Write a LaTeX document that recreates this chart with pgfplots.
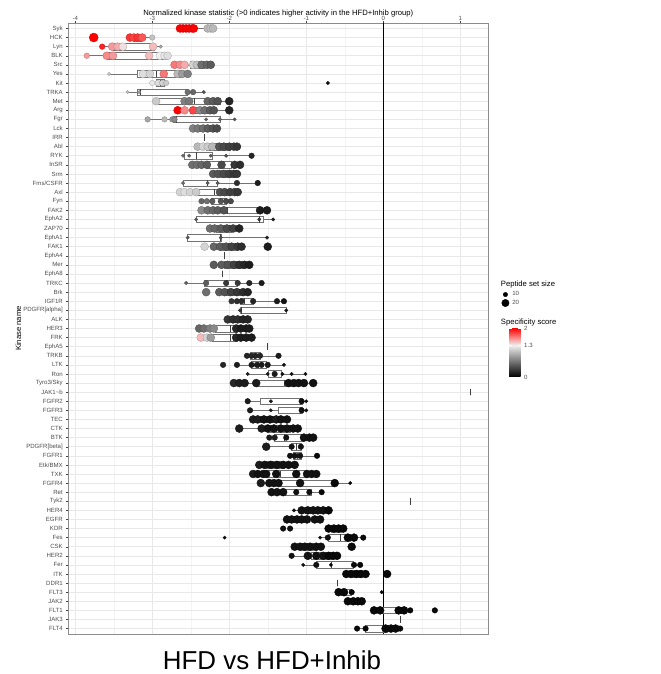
\documentclass[border=0pt]{standalone}
\usepackage{fontspec}
\setmainfont{Liberation Sans}
\usepackage{pgfplots}
\usepackage{pgfplotstable}
\pgfplotsset{compat=1.18}
\usepgfplotslibrary{statistics}
\definecolor{axtext}{RGB}{77,77,77}
\definecolor{gridmaj}{RGB}{232,232,232}
\definecolor{gridmin}{RGB}{243,243,243}

\pgfplotstableread{
x y c s
-2.64 1 2.0 4
-2.60 1 2.0 4
-2.56 1 2.0 4
-2.52 1 2.0 4
-2.48 1 1.95 4
-2.46 1 2.0 4
-2.28 1 1.0 4
-2.24 1 1.05 4
-2.21 1 1.0 4
-3.76 2 2.0 4.5
-3.29 2 1.85 4
-3.24 2 1.8 4
-3.19 2 1.85 4
-3.13 2 1.75 4
-3.00 2 1.05 2.8
-3.65 3 1.9 2.8
-3.52 3 1.55 4
-3.45 3 1.5 4
-3.38 3 1.35 4
-2.99 3 1.45 4
-2.89 3 0.9 1.7
-3.85 4 1.55 2.8
-3.59 4 1.6 4
-3.51 4 1.55 4
-3.04 4 1.45 4
-2.90 4 1.3 4
-2.84 4 1.25 4
-2.80 4 1.2 4
-2.71 5 1.65 4
-2.64 5 1.6 4
-2.58 5 1.5 4
-2.47 5 1.15 4
-2.42 5 1.05 4
-2.36 5 0.6 4
-2.29 5 0.55 4
-2.24 5 0.5 4
-3.56 6 1.1 1.7
-3.12 6 1.2 4
-3.03 6 1.15 4
-2.85 6 1.65 4
-2.67 6 1.0 4
-2.61 6 0.85 4
-2.54 6 0.7 4
-3.00 7 1.25 2.8
-2.93 7 1.2 2.8
-2.87 7 1.15 2.8
-2.82 7 1.1 2.8
-0.72 7 0.1 1.7
-3.32 8 1.05 1.7
-3.17 8 0.85 1.7
-2.54 8 0.6 2.8
-2.47 8 0.55 2.8
-2.33 8 0.45 1.7
-2.95 9 1.1 4
-2.58 9 0.7 4
-2.52 9 0.65 4
-2.28 9 0.55 4
-2.21 9 0.5 4
-2.15 9 0.45 4
-2.00 9 0.2 4
-2.67 10 2.0 4
-2.58 10 1.6 4
-2.47 10 1.8 4
-2.38 10 0.75 4
-2.32 10 0.6 4
-2.25 10 0.5 4
-2.20 10 0.45 4
-2.00 10 0.2 4
-3.06 11 0.9 2.8
-2.84 11 1.0 2.8
-2.74 11 0.8 2.8
-2.71 11 0.75 2.8
-2.30 11 0.55 1.7
-2.12 11 0.55 1.7
-1.93 11 0.5 1.7
-2.47 12 0.7 4
-2.41 12 0.65 4
-2.34 12 0.6 4
-2.28 12 0.5 4
-2.21 12 0.45 4
-2.16 12 0.4 4
-2.41 14 1.0 4
-2.34 14 1.15 4
-2.28 14 1.1 4
-2.22 14 1.0 4
-2.13 14 0.45 4
-2.07 14 0.4 4
-2.00 14 0.35 4
-1.94 14 0.35 4
-1.90 14 0.3 4
-2.60 15 0.6 1.7
-2.52 15 0.55 1.7
-2.24 15 0.5 1.7
-2.04 15 0.45 1.7
-1.71 15 0.2 2.8
-2.48 16 0.6 4
-2.42 16 0.6 4
-2.36 16 0.55 4
-2.29 16 0.5 4
-2.10 16 0.4 4
-1.93 16 0.3 4
-1.86 16 0.25 4
-2.21 17 0.5 4
-2.15 17 0.45 4
-2.07 17 0.4 4
-2.00 17 0.35 4
-1.94 17 0.3 4
-1.90 17 0.3 4
-2.60 18 0.6 1.7
-2.28 18 0.5 1.7
-2.15 18 0.5 1.7
-1.90 18 0.25 2.8
-1.63 18 0.15 2.8
-2.64 19 1.15 4
-2.58 19 1.2 4
-2.51 19 1.15 4
-2.43 19 1.1 4
-2.12 19 0.45 4
-2.06 19 0.4 4
-1.99 19 0.35 4
-1.93 19 0.35 4
-1.89 19 0.3 4
-2.36 20 0.55 2.8
-2.29 20 0.6 2.8
-2.22 20 0.5 2.8
-2.11 20 0.45 2.8
-2.04 20 0.4 2.8
-1.98 20 0.4 2.8
-2.36 21 0.75 4
-2.28 21 0.6 4
-2.21 21 0.55 4
-2.15 21 0.5 4
-2.07 21 0.45 4
-1.60 21 0.15 4
-1.51 21 0.15 4
-2.43 22 0.5 1.7
-1.61 22 0.3 1.7
-1.43 22 0.15 1.7
-2.25 23 0.6 4
-2.19 23 0.55 4
-2.11 23 0.5 4
-2.03 23 0.4 4
-1.95 23 0.35 4
-1.87 23 0.2 4
-2.54 24 0.5 1.7
-2.11 24 0.45 1.7
-1.51 24 0.2 1.7
-2.32 25 1.15 4
-2.20 25 0.55 4
-2.12 25 0.5 4
-2.04 25 0.45 4
-1.97 25 0.35 4
-1.89 25 0.3 4
-1.84 25 0.25 4
-1.50 25 0.15 4
-2.20 27 0.5 4
-2.10 27 0.5 4
-2.02 27 0.45 4
-1.94 27 0.35 4
-1.87 27 0.25 4
-1.80 27 0.2 4
-1.74 27 0.15 4
-2.56 29 0.55 1.7
-2.30 29 0.5 2.8
-2.04 29 0.3 2.8
-1.89 29 0.3 2.8
-1.74 29 0.2 2.8
-1.58 29 0.15 2.8
-2.30 30 0.6 4
-2.13 30 0.5 4
-2.06 30 0.45 4
-1.98 30 0.35 4
-1.90 30 0.3 4
-1.82 30 0.25 4
-1.76 30 0.2 4
-1.97 31 0.3 2.8
-1.90 31 0.25 2.8
-1.84 31 0.25 2.8
-1.69 31 0.2 2.8
-1.38 31 0.15 2.8
-1.29 31 0.1 2.8
-1.86 32 0.3 1.7
-1.26 32 0.15 1.7
-2.02 33 0.3 4
-1.95 33 0.25 4
-1.89 33 0.25 4
-1.82 33 0.2 4
-1.76 33 0.2 4
-2.39 34 0.55 4
-2.33 34 0.6 4
-2.25 34 0.7 4
-2.20 34 0.75 4
-1.91 34 0.2 4
-1.85 34 0.15 4
-1.78 34 0.15 4
-1.74 34 0.15 4
-2.37 35 1.45 4
-2.29 35 1.15 4
-2.24 35 0.85 4
-1.91 35 0.2 4
-1.85 35 0.15 4
-1.78 35 0.15 4
-1.71 35 0.15 4
-1.77 37 0.2 2.8
-1.71 37 0.2 2.8
-1.66 37 0.2 2.8
-1.60 37 0.2 2.8
-1.36 37 0.15 2.8
-2.08 38 0.2 2.8
-1.90 38 0.15 2.8
-1.71 38 0.15 2.8
-1.64 38 0.15 2.8
-1.58 38 0.15 2.8
-1.50 38 0.15 2.8
-1.29 38 0.1 1.7
-1.76 39 0.15 1.7
-1.50 39 0.15 1.7
-1.41 39 0.15 2.8
-1.31 39 0.1 1.7
-1.19 39 0.1 1.7
-1.01 39 0.1 1.7
-1.94 40 0.2 4
-1.87 40 0.15 4
-1.80 40 0.15 4
-1.65 40 0.15 4
-1.23 40 0.1 4
-1.16 40 0.1 4
-1.10 40 0.1 4
-1.03 40 0.1 4
-0.91 40 0.1 4
-1.76 42 0.15 2.8
-1.46 42 0.15 1.7
-1.06 42 0.1 2.8
-1.00 42 0.1 1.7
-1.73 43 0.15 2.8
-1.46 43 0.15 1.7
-1.06 43 0.1 2.8
-1.00 43 0.1 1.7
-1.69 44 0.15 4
-1.63 44 0.15 4
-1.55 44 0.1 4
-1.47 44 0.1 4
-1.39 44 0.15 4
-1.33 44 0.1 4
-1.25 44 0.1 4
-1.87 45 0.15 4
-1.58 45 0.15 4
-1.50 45 0.1 4
-1.42 45 0.1 4
-1.33 45 0.1 4
-1.25 45 0.1 4
-1.17 45 0.1 4
-1.11 45 0.1 4
-1.48 46 0.15 2.8
-1.41 46 0.15 2.8
-1.26 46 0.1 2.8
-1.03 46 0.1 4
-0.96 46 0.1 4
-0.91 46 0.1 4
-1.52 47 0.15 4
-1.19 47 0.1 2.8
-1.07 47 0.1 2.8
-1.21 48 0.1 2.8
-1.15 48 0.1 2.8
-1.08 48 0.1 2.8
-0.86 48 0.05 2.8
-1.61 49 0.15 4
-1.54 49 0.1 4
-1.46 49 0.1 4
-1.38 49 0.1 4
-1.30 49 0.1 4
-1.23 49 0.1 4
-1.15 49 0.1 4
-1.69 50 0.15 4
-1.63 50 0.1 4
-1.56 50 0.1 4
-1.52 50 0.1 4
-1.39 50 0.1 4
-1.13 50 0.1 4
-0.99 50 0.1 4
-0.93 50 0.1 4
-0.87 50 0.1 4
-1.59 51 0.15 4
-1.48 51 0.1 4
-1.42 51 0.1 4
-1.36 51 0.1 4
-1.08 51 0.1 4
-0.63 51 0.05 4
-0.43 51 0.05 1.7
-1.45 52 0.1 4
-1.38 52 0.1 4
-1.30 52 0.1 4
-1.13 52 0.1 2.8
-0.96 52 0.1 2.8
-0.80 52 0.05 2.8
-1.16 54 0.1 1.7
-1.06 54 0.1 4
-0.98 54 0.1 4
-0.91 54 0.1 4
-0.85 54 0.1 4
-0.78 54 0.1 4
-0.71 54 0.05 4
-1.25 55 0.1 4
-1.19 55 0.1 4
-1.12 55 0.1 4
-1.06 55 0.1 4
-0.99 55 0.1 4
-0.89 55 0.1 4
-0.82 55 0.1 4
-1.30 56 0.1 2.8
-1.21 56 0.1 2.8
-0.71 56 0.05 4
-0.64 56 0.05 4
-0.58 56 0.05 4
-0.52 56 0.05 4
-2.06 57 0.1 1.7
-0.82 57 0.1 1.7
-0.72 57 0.1 2.8
-0.46 57 0.05 4
-0.38 57 0.05 4
-0.26 57 0.05 2.8
-1.15 58 0.1 4
-1.08 58 0.1 4
-1.02 58 0.1 4
-0.95 58 0.1 4
-0.87 58 0.1 4
-0.81 58 0.1 4
-0.41 58 0.05 4
-1.19 59 0.1 2.8
-0.98 59 0.1 4
-0.87 59 0.1 4
-0.78 59 0.1 4
-0.71 59 0.05 4
-0.65 59 0.05 4
-0.60 59 0.05 4
-1.04 60 0.1 1.7
-0.87 60 0.1 2.8
-0.68 60 0.05 1.7
-0.38 60 0.05 2.8
-0.30 60 0.05 2.8
-0.48 61 0.05 4
-0.42 61 0.05 4
-0.35 61 0.05 4
-0.29 61 0.05 4
-0.23 61 0.05 4
0.05 61 0.05 4
-0.58 63 0.05 4
-0.51 63 0.05 4
-0.41 63 0.05 2.8
-0.02 63 0.05 1.7
-0.46 64 0.05 4
-0.39 64 0.05 4
-0.33 64 0.05 4
-0.28 64 0.05 4
-0.12 65 0.05 4
-0.04 65 0.05 4
0.20 65 0.05 4
0.27 65 0.05 4
0.35 65 0.05 2.8
0.67 65 0.05 2.8
-0.34 67 0.05 2.8
-0.23 67 0.05 2.8
0.03 67 0.05 4
0.10 67 0.05 4
0.16 67 0.05 4
0.22 67 0.05 2.8
}\pts

\pgfplotsset{
  kbox/.style={draw=black!55, fill=white, line width=0.5pt, solid, forget plot,
    boxplot/draw direction=x, boxplot/box extend=0.72, boxplot/whisker extend=0,
    boxplot/every median/.style={draw=black!75, line width=0.6pt}},
}
\newcommand{\kbox}[6]{\addplot[kbox, boxplot prepared={draw position=#1,
  lower whisker=#2, lower quartile=#3, median=#4, upper quartile=#5, upper whisker=#6}] coordinates {};}

\begin{document}
\begin{tikzpicture}
\path[use as bounding box] (-68.3bp,-40bp) rectangle (592.7bp,634bp);
\begin{axis}[
  at={(0,0)}, anchor=south west,
  scale only axis, width=420bp, height=611bp,
  xmin=-4.09, xmax=1.364, ymin=0.4, ymax=67.6, y dir=reverse,
  clip=false,
  xtick={-4,-3,-2,-1,0,1}, xticklabels={-4,-3,-2,-1,0,1},
  minor xtick={-3.5,-2.5,-1.5,-0.5,0.5},
  xtick pos=right, xticklabel pos=right,
  ytick={1,...,67},
  yticklabels={Syk,HCK,Lyn,BLK,Src,Yes,Kit,TRKA,Met,Arg,Fgr,Lck,IRR,Abl,RYK,InSR,Srm,Fms/CSFR,Axl,Fyn,FAK2,EphA2,ZAP70,EphA1,FAK1,EphA4,Mer,EphA8,TRKC,Brk,IGF1R,{PDGFR[alpha]},ALK,HER3,FRK,EphA5,TRKB,LTK,Ron,Tyro3/Sky,{JAK1\textasciitilde b},FGFR2,FGFR3,TEC,CTK,BTK,{PDGFR[beta]},FGFR1,Etk/BMX,TXK,FGFR4,Ret,Tyk2,HER4,EGFR,KDR,Fes,CSK,HER2,Fer,ITK,DDR1,FLT3,JAK2,FLT1,JAK3,FLT4},
  ytick pos=left,
  tick align=outside, major tick length=2bp, minor tick length=0pt,
  tick style={draw=black!75, line width=0.4pt},
  xmajorgrids, ymajorgrids, xminorgrids,
  major grid style={draw=gridmaj, line width=0.5pt},
  minor grid style={draw=gridmin, line width=0.4pt},
  axis line style={draw=black!45, line width=0.5pt},
  ticklabel style={font=\fontsize{6.1}{7}\selectfont, text=axtext},
  xticklabel style={yshift=-3.5bp},
  title={Normalized kinase statistic (>0 indicates higher activity in the HFD+Inhib group)},
  title style={at={(axis description cs:0.5,1)}, anchor=center, yshift=4bp, font=\fontsize{7.7}{9}\selectfont},
  ylabel={Kinase name},
  ylabel style={at={(axis description cs:-0.119,0.5)}, anchor=center, font=\fontsize{7.7}{9}\selectfont},
  point meta min=0, point meta max=2,
  colormap={spec}{rgb255(0pt)=(0,0,0) rgb255(13pt)=(240,240,240) rgb255(20pt)=(255,0,0)},
  colorbar,
  colorbar/width=11.5bp,
  colorbar style={at={(parent axis.north east)}, anchor=north west,
    xshift=12.4bp, yshift=-305bp, scale only axis, width=11.5bp, height=49bp,
    ytick={0,1.3,2}, yticklabels={0,1.3,2},
    yticklabel style={font=\fontsize{6.1}{7}\selectfont, text=axtext},
    tick align=inside, major tick length=2.5bp,
    ytick style={draw=white, line width=0.5pt},
    axis line style={draw=none}},
  legend style={at={(axis description cs:1.031,0.5614)}, anchor=north west,
    draw=none, fill=none, inner sep=0pt, font=\fontsize{6.1}{7}\selectfont,
    row sep=1.2bp, nodes={inner xsep=3bp, inner ysep=0.5bp, text=axtext}},
  legend cell align=left,
]
\addlegendimage{legend image code/.code={\fill[black] (4bp,0bp) circle (2.2bp);}}
\addlegendentry{10}
\addlegendimage{legend image code/.code={\fill[black] (4bp,0bp) circle (3.7bp);}}
\addlegendentry{20}

\addplot[black, line width=0.6pt, forget plot] coordinates {(0,0.4) (0,67.6)};

\kbox{1}{-2.64}{-2.59}{-2.52}{-2.47}{-2.21}
\kbox{2}{-3.29}{-3.25}{-3.19}{-3.14}{-3.00}
\kbox{3}{-3.65}{-3.51}{-3.37}{-2.97}{-2.89}
\kbox{4}{-3.85}{-3.59}{-3.04}{-2.80}{-2.77}
\kbox{5}{-2.71}{-2.50}{-2.41}{-2.32}{-2.24}
\kbox{6}{-3.56}{-3.20}{-2.95}{-2.61}{-2.54}
\kbox{7}{-3.03}{-2.95}{-2.89}{-2.84}{-2.80}
\kbox{8}{-3.32}{-3.19}{-3.15}{-2.54}{-2.33}
\kbox{9}{-2.95}{-2.92}{-2.45}{-2.12}{-2.00}
\kbox{10}{-2.67}{-2.50}{-2.38}{-2.22}{-2.00}
\kbox{11}{-3.06}{-2.73}{-2.69}{-2.12}{-1.93}
\kbox{12}{-2.47}{-2.39}{-2.30}{-2.22}{-2.16}
\kbox{13}{-2.33}{-2.33}{-2.33}{-2.33}{-2.33}
\kbox{14}{-2.41}{-2.30}{-2.15}{-1.99}{-1.90}
\kbox{15}{-2.60}{-2.59}{-2.43}{-2.22}{-1.71}
\kbox{16}{-2.48}{-2.29}{-2.12}{-1.97}{-1.86}
\kbox{17}{-2.21}{-2.13}{-2.04}{-1.97}{-1.90}
\kbox{18}{-2.60}{-2.60}{-2.28}{-2.16}{-1.63}
\kbox{19}{-2.64}{-2.43}{-2.19}{-1.99}{-1.89}
\kbox{20}{-2.36}{-2.24}{-2.12}{-2.04}{-1.98}
\kbox{21}{-2.36}{-2.06}{-2.03}{-1.58}{-1.51}
\kbox{22}{-2.43}{-2.43}{-1.61}{-1.56}{-1.43}
\kbox{23}{-2.25}{-2.17}{-2.07}{-1.97}{-1.87}
\kbox{24}{-2.54}{-2.54}{-2.11}{-2.10}{-1.51}
\kbox{25}{-2.20}{-2.12}{-2.02}{-1.89}{-1.82}
\kbox{26}{-2.07}{-2.07}{-2.07}{-2.07}{-2.07}
\kbox{27}{-2.20}{-2.06}{-1.90}{-1.82}{-1.74}
\kbox{28}{-2.09}{-2.09}{-2.09}{-2.09}{-2.09}
\kbox{29}{-2.56}{-2.32}{-2.04}{-1.89}{-1.58}
\kbox{30}{-2.13}{-2.07}{-1.95}{-1.84}{-1.76}
\kbox{31}{-1.97}{-1.86}{-1.80}{-1.69}{-1.29}
\kbox{32}{-1.86}{-1.86}{-1.85}{-1.26}{-1.26}
\kbox{33}{-2.02}{-1.97}{-1.89}{-1.81}{-1.76}
\kbox{34}{-2.39}{-2.18}{-1.99}{-1.89}{-1.74}
\kbox{35}{-2.37}{-2.22}{-1.99}{-1.90}{-1.71}
\kbox{36}{-1.51}{-1.51}{-1.51}{-1.51}{-1.51}
\kbox{37}{-1.77}{-1.73}{-1.67}{-1.60}{-1.36}
\kbox{38}{-1.90}{-1.71}{-1.62}{-1.52}{-1.29}
\kbox{39}{-1.76}{-1.50}{-1.41}{-1.32}{-1.01}
\kbox{40}{-1.94}{-1.65}{-1.28}{-1.16}{-0.91}
\kbox{41}{1.13}{1.13}{1.13}{1.13}{1.13}
\kbox{42}{-1.76}{-1.60}{-1.08}{-1.05}{-0.99}
\kbox{43}{-1.73}{-1.36}{-1.08}{-1.05}{-0.99}
\kbox{44}{-1.69}{-1.60}{-1.47}{-1.34}{-1.25}
\kbox{45}{-1.87}{-1.50}{-1.34}{-1.21}{-1.11}
\kbox{46}{-1.48}{-1.41}{-1.28}{-1.04}{-0.91}
\kbox{47}{-1.52}{-1.19}{-1.13}{-1.07}{-1.07}
\kbox{48}{-1.21}{-1.17}{-1.12}{-1.07}{-0.86}
\kbox{49}{-1.61}{-1.52}{-1.39}{-1.28}{-1.15}
\kbox{50}{-1.69}{-1.51}{-1.34}{-0.99}{-0.87}
\kbox{51}{-1.59}{-1.36}{-1.08}{-0.65}{-0.43}
\kbox{52}{-1.45}{-1.33}{-1.13}{-0.93}{-0.80}
\kbox{53}{0.35}{0.35}{0.35}{0.35}{0.35}
\kbox{54}{-1.16}{-1.01}{-0.90}{-0.80}{-0.71}
\kbox{55}{-1.25}{-1.17}{-1.09}{-0.99}{-0.82}
\kbox{56}{-0.71}{-0.68}{-0.61}{-0.55}{-0.52}
\kbox{57}{-0.82}{-0.72}{-0.56}{-0.43}{-0.26}
\kbox{58}{-1.15}{-1.07}{-0.98}{-0.87}{-0.81}
\kbox{59}{-1.19}{-0.93}{-0.78}{-0.66}{-0.60}
\kbox{60}{-1.04}{-0.87}{-0.68}{-0.39}{-0.26}
\kbox{61}{-0.48}{-0.43}{-0.35}{-0.28}{-0.23}
\kbox{62}{-0.60}{-0.60}{-0.60}{-0.60}{-0.60}
\kbox{63}{-0.58}{-0.54}{-0.48}{-0.41}{-0.41}
\kbox{64}{-0.46}{-0.42}{-0.37}{-0.31}{-0.28}
\kbox{65}{-0.12}{-0.04}{0.20}{0.28}{0.35}
\kbox{66}{0.22}{0.22}{0.22}{0.22}{0.22}
\kbox{67}{-0.34}{-0.23}{0.01}{0.05}{0.22}

\addplot[scatter, only marks, mark=*, point meta=explicit, forget plot,
  visualization depends on={\thisrow{s}\as\msz},
  scatter/@pre marker code/.append style={/tikz/mark size=\msz pt, /tikz/line width=0.2pt}]
  table[x=x, y=y, meta=c] {\pts};

\node[anchor=west, inner sep=0pt, font=\fontsize{7.7}{9}\selectfont] at (axis description cs:1.0295,0.5728) {Peptide set size};
\node[anchor=west, inner sep=0pt, font=\fontsize{7.7}{9}\selectfont] at (axis description cs:1.0295,0.509) {Specificity score};
\node[inner sep=0pt, font=\fontsize{26}{28}\selectfont, yshift=-26bp] at (axis description cs:0.485,0) {HFD vs HFD+Inhib};
\end{axis}
\end{tikzpicture}
\end{document}
